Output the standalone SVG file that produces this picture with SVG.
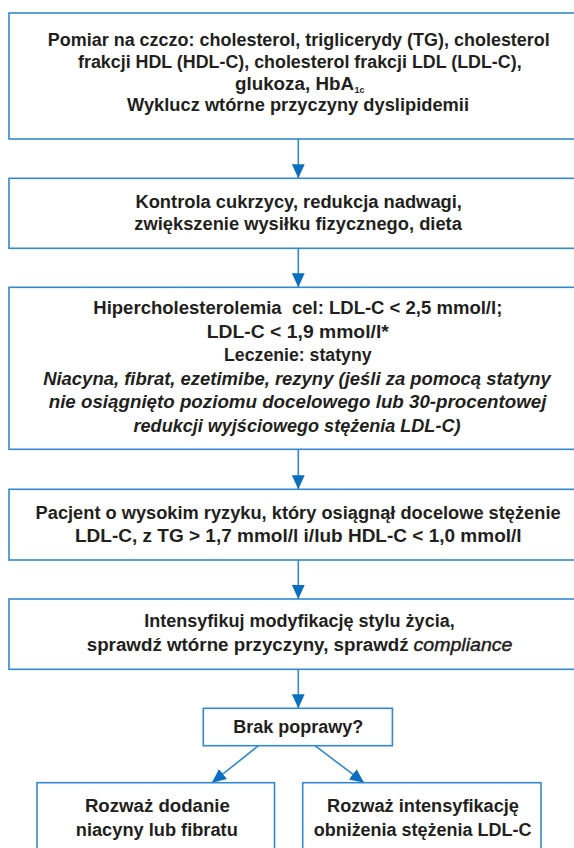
<svg xmlns="http://www.w3.org/2000/svg" width="574" height="848" viewBox="0 0 574 848">
<style>
.box{fill:#ffffff;stroke:#3189d2;stroke-width:1.6}
.t{font-family:"Liberation Sans",Arial,sans-serif;font-weight:bold;font-size:18px;fill:#231f20;text-anchor:middle}
.s{text-anchor:start}
.i{font-style:italic}
.m{font-weight:normal;stroke:#231f20;stroke-width:0.45}
.sub{font-size:9px}
.conn{stroke:#3189d2;stroke-width:1.6;fill:none;marker-end:url(#ah)}
</style>
<defs>
<marker id="ah" markerUnits="userSpaceOnUse" markerWidth="14" markerHeight="13" refX="14" refY="6.4" orient="auto" viewBox="0 0 14 12.8">
<path d="M0,0 L14,6.4 L0,12.8 Z" fill="#0a6fc1"/>
</marker>
</defs>
<rect x="0" y="0" width="574" height="848" fill="#ffffff"/>
<g id="connectors">
<line class="conn" x1="298.3" y1="139" x2="298.3" y2="178.3"/>
<line class="conn" x1="298.3" y1="248.3" x2="298.3" y2="287.3"/>
<line class="conn" x1="298.3" y1="449.3" x2="298.3" y2="489.3"/>
<line class="conn" x1="298.3" y1="560" x2="298.3" y2="599"/>
<line class="conn" x1="298.3" y1="669.3" x2="298.3" y2="708.3"/>
<line class="conn" x1="258.4" y1="745.7" x2="212" y2="782.7"/>
<line class="conn" x1="315" y1="745.7" x2="364" y2="782.7"/>
</g>
<g id="n1">
<rect class="box" x="9" y="13" width="578" height="126"/>
<text class="t" x="298.8" y="46.3" textLength="502" lengthAdjust="spacingAndGlyphs">Pomiar na czczo: cholesterol, triglicerydy (TG), cholesterol</text>
<text class="t" x="299.8" y="68" textLength="443.6" lengthAdjust="spacingAndGlyphs">frakcji HDL (HDL-C), cholesterol frakcji LDL (LDL-C),</text>
<text class="t s" x="235" y="89.6" textLength="119" lengthAdjust="spacingAndGlyphs">glukoza, HbA</text><text class="t s sub" x="354.5" y="92.6">1c</text>
<text class="t" x="298" y="111.3" textLength="342" lengthAdjust="spacingAndGlyphs">Wyklucz wtórne przyczyny dyslipidemii</text>
</g>
<g id="n2">
<rect class="box" x="9" y="178.3" width="578" height="70"/>
<text class="t" x="298.7" y="208.4" textLength="326.5" lengthAdjust="spacingAndGlyphs">Kontrola cukrzycy, redukcja nadwagi,</text>
<text class="t" x="298.1" y="230.1" textLength="327.6" lengthAdjust="spacingAndGlyphs">zwiększenie wysiłku fizycznego, dieta</text>
</g>
<g id="n3">
<rect class="box" x="9" y="287.3" width="578" height="162"/>
<text class="t" x="297.8" y="314.3" textLength="409" lengthAdjust="spacingAndGlyphs" xml:space="preserve">Hipercholesterolemia  cel: LDL-C &lt; 2,5 mmol/l;</text>
<text class="t" x="297.8" y="337.5" textLength="182" lengthAdjust="spacingAndGlyphs">LDL-C &lt; 1,9 mmol/l*</text>
<text class="t" x="297.8" y="361" textLength="147.5" lengthAdjust="spacingAndGlyphs">Leczenie: statyny</text>
<text class="t i" x="297" y="384.8" textLength="507.7" lengthAdjust="spacingAndGlyphs">Niacyna, fibrat, ezetimibe, rezyny (jeśli za pomocą statyny</text>
<text class="t i" x="297.6" y="408.3" textLength="497.8" lengthAdjust="spacingAndGlyphs">nie osiągnięto poziomu docelowego lub 30-procentowej</text>
<text class="t i" x="297" y="431.7" textLength="326.9" lengthAdjust="spacingAndGlyphs">redukcji wyjściowego stężenia LDL-C)</text>
</g>
<g id="n4">
<rect class="box" x="9" y="489.3" width="578" height="70.7"/>
<text class="t" x="298.1" y="519.3" textLength="525" lengthAdjust="spacingAndGlyphs">Pacjent o wysokim ryzyku, który osiągnął docelowe stężenie</text>
<text class="t" x="298.3" y="541.7" textLength="446.6" lengthAdjust="spacingAndGlyphs">LDL-C, z TG &gt; 1,7 mmol/l i/lub HDL-C &lt; 1,0 mmol/l</text>
</g>
<g id="n5">
<rect class="box" x="9" y="599" width="578" height="70.3"/>
<text class="t" x="299.5" y="627.2" textLength="310.4" lengthAdjust="spacingAndGlyphs">Intensyfikuj modyfikację stylu życia,</text>
<text class="t s" x="86.7" y="650.5" textLength="322" lengthAdjust="spacingAndGlyphs">sprawdź wtórne przyczyny, sprawdź</text><text class="t s i m" x="413.5" y="650.5" textLength="99" lengthAdjust="spacingAndGlyphs">compliance</text>
</g>
<g id="n6">
<rect class="box" x="203.3" y="708.3" width="189.1" height="37.4"/>
<text class="t" x="298.3" y="732.7" textLength="130" lengthAdjust="spacingAndGlyphs">Brak poprawy?</text>
</g>
<g id="n7">
<rect class="box" x="37" y="782.7" width="237.5" height="90"/>
<text class="t" x="157.4" y="812.3" textLength="145" lengthAdjust="spacingAndGlyphs">Rozważ dodanie</text>
<text class="t" x="156.8" y="835.7" textLength="162" lengthAdjust="spacingAndGlyphs">niacyny lub fibratu</text>
</g>
<g id="n8">
<rect class="box" x="302.7" y="782.7" width="238.3" height="90"/>
<text class="t" x="423" y="812.3" textLength="192" lengthAdjust="spacingAndGlyphs">Rozważ intensyfikację</text>
<text class="t" x="422.6" y="835.7" textLength="217.8" lengthAdjust="spacingAndGlyphs">obniżenia stężenia LDL-C</text>
</g>
</svg>
